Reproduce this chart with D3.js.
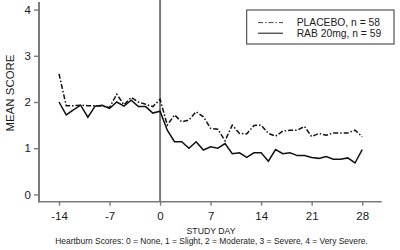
<!DOCTYPE html>
<html><head><meta charset="utf-8">
<script src="https://cdn.jsdelivr.net/npm/d3@7"></script>
<style>html,body{margin:0;padding:0;background:#fff;}svg{display:block;font-family:Arial,"Liberation Sans",sans-serif;}</style>
</head><body><svg id="c" width="400" height="250"></svg>
<script>
const days = d3.range(-14, 29);
const placebo = [2.61,1.92,1.92,1.93,1.92,1.92,1.91,1.88,2.17,1.94,2.10,2.00,1.95,1.90,2.06,
  1.50,1.72,1.57,1.61,1.79,1.68,1.43,1.41,1.16,1.50,1.32,1.31,1.49,1.50,1.32,1.26,1.37,1.39,1.39,1.47,1.25,1.32,1.28,1.33,1.33,1.33,1.39,1.25];
const rab = [2.00,1.72,1.83,1.93,1.67,1.91,1.93,1.86,2.00,1.91,2.04,1.90,1.90,1.76,1.80,
  1.39,1.14,1.14,1.00,1.14,0.96,1.03,1.00,1.10,0.88,0.90,0.80,0.90,0.90,0.72,0.97,0.88,0.90,0.84,0.84,0.80,0.78,0.82,0.76,0.76,0.79,0.68,0.97];
const xTicks = [-14,-7,0,7,14,21,28];
const yTicks = [0,1,2,3,4];
const legendLabels = ["PLACEBO, n = 58","RAB 20mg, n = 59"];
const xTitle = "STUDY DAY";
const yTitle = "MEAN SCORE";
const footnote = "Heartburn Scores: 0 = None, 1 = Slight, 2 = Moderate, 3 = Severe, 4 = Very Severe.";

const svg = d3.select("#c");
const axisCol = "#7a7a7a", textCol = "#1a1a1a";
const x = d3.scaleLinear().domain([-16.77, 30.7]).range([39, 381.7]);
const y = d3.scaleLinear().domain([0, 4]).range([194.4, 9.6]);
const yBottom = 201.7;

// axes
const gx = svg.append("g").attr("transform", `translate(0,${yBottom})`)
  .call(d3.axisBottom(x).tickValues(xTicks).tickFormat(d3.format("d")).tickSize(4).tickPadding(6).tickSizeOuter(0));
const gy = svg.append("g").attr("transform", `translate(39,0)`)
  .call(d3.axisLeft(y).tickValues(yTicks).tickFormat(d3.format("d")).tickSize(5).tickPadding(3).tickSizeOuter(0));
[gx, gy].forEach(g => {
  g.select(".domain").remove();
  g.selectAll(".tick line").attr("stroke", axisCol).attr("stroke-width", 1.4);
  g.selectAll(".tick text").attr("fill", textCol).attr("font-size", 11.5)
    .attr("font-family", "Arial, 'Liberation Sans', sans-serif");
});
gx.selectAll(".tick text").text(d => d < 0 ? "-" + Math.abs(d) : d);
svg.append("line").attr("x1", 39).attr("x2", 39).attr("y1", 2).attr("y2", yBottom + 0.7)
  .attr("stroke", axisCol).attr("stroke-width", 2);
svg.append("line").attr("x1", 39).attr("x2", 381.7).attr("y1", yBottom).attr("y2", yBottom)
  .attr("stroke", axisCol).attr("stroke-width", 1.6);
svg.append("line").attr("x1", x(0)).attr("x2", x(0)).attr("y1", 0).attr("y2", yBottom)
  .attr("stroke", axisCol).attr("stroke-width", 2);

// lines
const line = d3.line().x((d, i) => x(days[i])).y(d => y(d));
svg.append("path").datum(placebo).attr("d", line).attr("fill", "none")
  .attr("stroke", "#111").attr("stroke-width", 1.5).attr("stroke-dasharray", "5,2,1.5,2");
svg.append("path").datum(rab).attr("d", line).attr("fill", "none")
  .attr("stroke", "#111").attr("stroke-width", 1.5);

function fit(t, w) {
  const l = t.node().getComputedTextLength();
  const fs = +t.attr("font-size");
  t.attr("font-size", fs * w / l);
}
// titles
const xt = svg.append("text").attr("x", 211).attr("y", 234).attr("text-anchor", "middle")
  .attr("font-size", 10).attr("fill", textCol).text(xTitle);
fit(xt, 49);
const ft = svg.append("text").attr("x", 211.5).attr("y", 244).attr("text-anchor", "middle")
  .attr("font-size", 10).attr("fill", textCol).text(footnote);
fit(ft, 313);
const yt = svg.append("text").attr("transform", "translate(14,93) rotate(-90)")
  .attr("text-anchor", "middle").attr("font-size", 11).attr("fill", textCol).text(yTitle);
fit(yt, 77);

// legend
svg.append("rect").attr("x", 246.7).attr("y", 10).attr("width", 147.3).attr("height", 34)
  .attr("fill", "#fff").attr("stroke", "#333").attr("stroke-width", 1);
const styles = ["5,2,1.5,2", null];
let legendFS = 10.3;
legendLabels.forEach((lab, i) => {
  const yy = 22.6 + i * 10.6;
  svg.append("line").attr("x1", 258).attr("x2", 283).attr("y1", yy).attr("y2", yy)
    .attr("stroke", "#111").attr("stroke-width", i === 0 ? 0.8 : 1).attr("stroke-dasharray", styles[i]);
  svg.append("text").attr("x", 296.7).attr("y", yy + 3.8).attr("font-size", legendFS)
    .attr("fill", textCol).text(lab);
});
</script></body></html>
